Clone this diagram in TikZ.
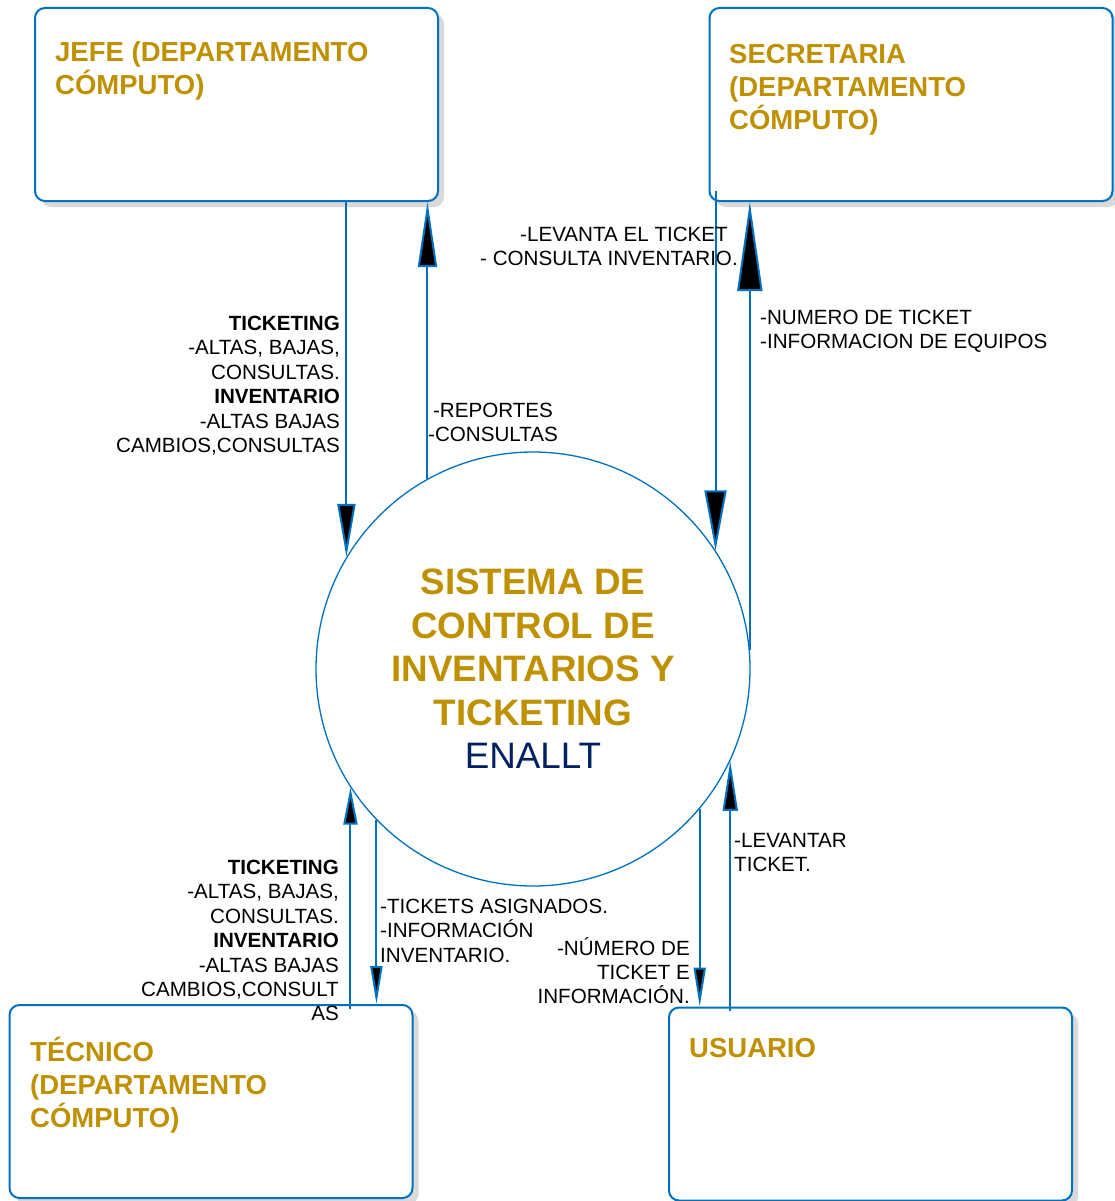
\documentclass[tikz,border=0pt]{standalone}
\usepackage{fontspec}
\setmainfont{Liberation Sans}
\usetikzlibrary{arrows.meta,shadows,calc}
\definecolor{lineblue}{HTML}{0070C0}
\definecolor{gold}{HTML}{BF9000}
\definecolor{navy}{HTML}{002060}
\definecolor{shadowgray}{HTML}{D9D9D9}
\tikzset{
  entity/.style={draw=lineblue, line width=2pt, rounded corners=10pt, fill=white,
    minimum width=403pt, minimum height=193pt, inner sep=0pt,
    drop shadow={shadow xshift=6pt, shadow yshift=-6pt, fill=shadowgray, opacity=1}},
  enttext/.style={anchor=north west, inner sep=0pt, font=\fontsize{27.5}{33}\selectfont\bfseries, text=gold, align=left},
  lbl/.style={inner sep=0pt, font=\fontsize{20.6}{24.4}\selectfont, text=black},
  fl/.style 2 args={draw=lineblue, line width=2pt, -{Triangle[length=#1pt, width=#2pt, fill=black]}},
  proc/.style={circle, draw=lineblue, line width=1.3pt, minimum size=434pt, inner sep=0pt, align=center,
    font=\fontsize{36.8}{43.5}\selectfont\bfseries, text=gold}
}
\begin{document}
\begin{tikzpicture}[x=1pt,y=-1pt]
\useasboundingbox (0,0) rectangle (1115,1201);

% entities
\node[entity] (jefe) at (236.5,104.5) {};
\node[entity] (sec)  at (911,104.5) {};
\node[entity] (tec)  at (211,1101.5) {};
\node[entity] (usu)  at (870.5,1104) {};

\node[enttext] (jefeT) at (55,41.3) {JEFE (DEPARTAMENTO\\CÓMPUTO)};
\node[enttext] (secT)  at (729,44.3) {SECRETARIA\\(DEPARTAMENTO\\CÓMPUTO)};
\node[enttext] (tecT)  at (30,1037.3) {TÉCNICO\\(DEPARTAMENTO\\CÓMPUTO)};
\node[enttext] (usuT)  at (689,1038.3) {USUARIO};

% process
\node[proc] (circ) at (533,669) {SISTEMA DE\\CONTROL DE\\INVENTARIOS Y\\TICKETING\\\mdseries\color{navy}ENALLT};

% flows
\draw[fl={53}{18}] (circ.149.5 |- jefe.south) -- (circ.149.5);
\draw[fl={65}{19}] (circ.119.25) -- (circ.119.25 |- jefe.south);
\draw[fl={60}{22}] ($(circ.33.5 |- sec.south)+(0,-11)$) -- (circ.33.5);
\draw[fl={89}{25}] (circ.5) -- (circ.5 |- sec.south);
\draw[fl={37}{14}] ($(circ.213.5 |- tec.north)+(0,5)$) -- (circ.213.5);
\draw[fl={38}{12}] (circ.224.4) -- (circ.224.4 |- tec.north);
\draw[fl={39}{12}] (circ.320.7) -- (circ.320.7 |- usu.north);
\draw[fl={50}{15}] ($(circ.335.2 |- usu.north)+(0,4)$) -- (circ.335.2);

% labels
\node[lbl, anchor=north east, align=right] (l1) at (340,316)
  {\textbf{TICKETING}\\-ALTAS, BAJAS,\\CONSULTAS.\\\textbf{INVENTARIO}\\-ALTAS BAJAS\\CAMBIOS,CONSULTAS};
\node[lbl, anchor=north, align=center] (l2) at (493,403) {-REPORTES\\-CONSULTAS};
\node[lbl, anchor=north west, align=left] (l3) at (480,227) {\hspace*{40pt}-LEVANTA EL TICKET\\- CONSULTA INVENTARIO.};
\node[lbl, anchor=north west, align=left] (l4) at (760,310) {-NUMERO DE TICKET\\-INFORMACION DE EQUIPOS};
\node[lbl, anchor=north east, align=right] (l5) at (339,860)
  {\textbf{TICKETING}\\-ALTAS, BAJAS,\\CONSULTAS.\\\textbf{INVENTARIO}\\-ALTAS BAJAS\\CAMBIOS,CONSULT\\AS};
\node[lbl, anchor=north west, align=left] (l6) at (380,899) {-TICKETS ASIGNADOS.\\-INFORMACIÓN\\INVENTARIO.};
\node[lbl, anchor=north east, align=right] (l7) at (690,937) {-NÚMERO DE\\TICKET E\\INFORMACIÓN.};
\node[lbl, anchor=north west, align=left] (l8) at (734,833) {-LEVANTAR\\TICKET.};
\end{tikzpicture}
\end{document}
